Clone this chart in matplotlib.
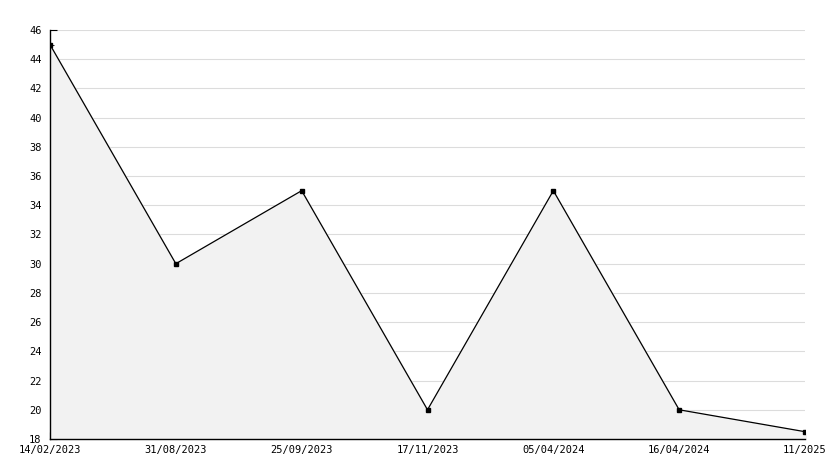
import matplotlib
matplotlib.use("Agg")
import matplotlib.pyplot as plt
from matplotlib.ticker import MultipleLocator

labels = ["14/02/2023", "31/08/2023", "25/09/2023", "17/11/2023",
          "05/04/2024", "16/04/2024", "11/2025"]
values = [45, 30, 35, 20, 35, 20, 18.5]
x = list(range(len(values)))

fig = plt.figure(figsize=(8.34, 4.68), dpi=100)
ax = fig.add_axes([50/834, 29/468, 755/834, 409/468])

ax.fill_between(x, values, 18, color="#f2f2f2", zorder=1)
ax.plot(x, values, color="black", lw=0.9, zorder=3)
ax.plot(x, values, "s", color="black", ms=3.5, zorder=4)

ax.set_xlim(0, len(values) - 1)
ax.set_ylim(18, 46)
ax.yaxis.set_major_locator(MultipleLocator(2))
ax.yaxis.set_minor_locator(MultipleLocator(1))
ax.set_xticks(x)
ax.set_xticklabels(labels)
ax.grid(axis="y", which="major", color="#dcdcdc", lw=0.8, zorder=0)
ax.set_axisbelow(True)

for s in ["top", "right"]:
    ax.spines[s].set_visible(False)
for s in ["left", "bottom"]:
    ax.spines[s].set_linewidth(1.0)

ax.tick_params(axis="both", which="major", direction="in", length=5,
               labelsize=7.5)
ax.tick_params(axis="x", which="major", pad=4)
ax.tick_params(axis="y", which="major", pad=6)
ax.tick_params(axis="y", which="minor", direction="in", length=3)
for t in ax.get_xticklabels() + ax.get_yticklabels():
    t.set_fontfamily("DejaVu Sans Mono")

fig.savefig("out.png", dpi=100)
